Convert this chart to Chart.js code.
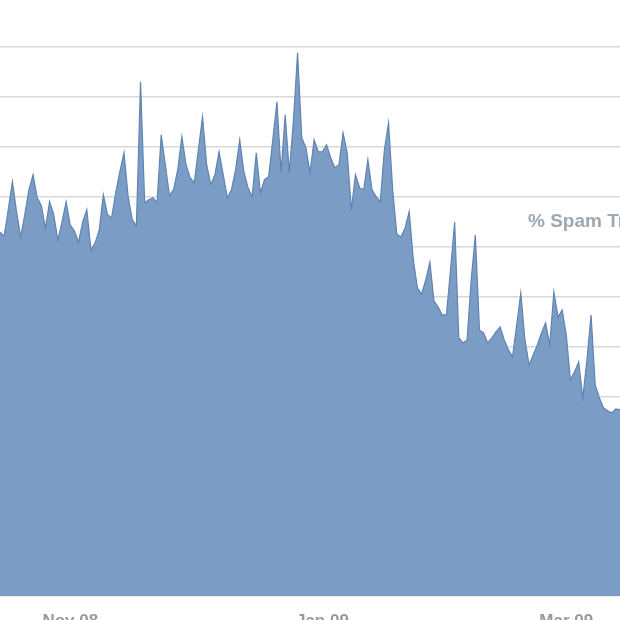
<!DOCTYPE html>
<html>
<head>
<meta charset="utf-8">
<script src="https://cdn.jsdelivr.net/npm/chart.js@4.4.1/dist/chart.umd.min.js"></script>
<style>
  html, body { margin: 0; padding: 0; background: #fff; overflow: hidden; }
  #wrap { width: 620px; height: 620px; overflow: hidden; }
  #wrap div { width: 620px; height: 640px; }
</style>
</head>
<body>
<div id="wrap"><div><canvas id="chart"></canvas></div></div>
<script>
// daily share of spam (one value per day)
const spamShare = [
  72.9, 72.1, 77.4, 83.0, 77.0, 71.9, 76.4, 81.4, 84.4, 79.8,
  78.2, 73.7, 79.0, 76.4, 71.3, 74.9, 79.0, 74.3, 73.1, 70.9,
  74.9, 77.4, 69.3, 70.7, 73.3, 80.4, 76.4, 75.8, 80.8, 85.0,
  88.8, 80.0, 75.4, 74.1, 103.0, 78.8, 79.4, 79.8, 78.8, 92.4,
  86.4, 80.2, 81.4, 85.4, 92.0, 86.4, 83.8, 82.8, 89.4, 96.0,
  86.4, 82.4, 84.4, 89.0, 84.4, 79.8, 81.4, 85.4, 91.4, 85.0,
  81.8, 80.0, 88.8, 80.8, 83.4, 84.0, 91.4, 99.0, 84.8, 96.4,
  84.8, 95.4, 108.8, 91.8, 89.8, 84.8, 91.4, 89.0, 89.0, 90.4,
  87.8, 85.8, 86.4, 92.8, 88.8, 77.4, 84.4, 81.8, 81.4, 87.4,
  81.4, 80.0, 79.0, 89.4, 94.8, 81.4, 72.5, 71.9, 73.7, 77.0,
  67.3, 61.7, 60.5, 63.3, 66.9, 59.1, 57.9, 56.3, 56.3, 65.3,
  74.9, 51.7, 50.7, 51.3, 63.3, 72.3, 53.3, 52.7, 50.7, 51.7,
  52.9, 53.9, 51.3, 49.3, 47.9, 54.3, 60.7, 51.3, 46.3, 48.3,
  50.3, 52.7, 54.7, 50.3, 60.9, 55.9, 57.3, 52.3, 43.3, 44.9,
  46.9, 39.7, 47.3, 56.3, 42.3, 39.7, 37.7, 37.1, 36.7, 37.5,
  37.3
];

// tick labels and the day index they sit under
const tickLabels = ['Nov 08', 'Jan 09', 'Mar 09'];
const tickDays = [17, 78, 137];

const seriesName = '% Spam Traffic';

// one category per day, starting mid October 2008
const startDate = new Date(2008, 9, 15);
const days = spamShare.map((v, i) => {
  const d = new Date(startDate);
  d.setDate(d.getDate() + i);
  return d.toISOString().slice(0, 10);
});

const seriesLabel = {
  id: 'seriesLabel',
  afterDraw(chart) {
    const { ctx } = chart;
    ctx.save();
    ctx.font = 'bold 19px "Liberation Sans", Arial, sans-serif';
    ctx.fillStyle = '#9ea8b3';
    ctx.textBaseline = 'middle';
    ctx.fillText(seriesName, 528, 222);
    ctx.restore();
  }
};

new Chart(document.getElementById('chart').getContext('2d'), {
  type: 'line',
  data: {
    labels: days,
    datasets: [
      {
        label: seriesName,
        data: spamShare,
        fill: 'origin',
        backgroundColor: '#7b9dc5',
        borderColor: '#5f83b2',
        borderWidth: 1.2,
        pointRadius: 0,
        tension: 0,
      },
    ],
  },
  plugins: [seriesLabel],
  options: {
    responsive: true,
    maintainAspectRatio: false,
    animation: false,
    layout: { padding: 0 },
    plugins: {
      legend: { display: false },
      tooltip: { enabled: false },
    },
    scales: {
      x: {
        type: 'category',
        offset: false,
        grid: { display: false, drawTicks: false },
        border: { display: false },
        ticks: {
          autoSkip: false,
          maxRotation: 0,
          minRotation: 0,
          padding: 15,
          color: '#999999',
          font: { size: 17, weight: 'bold', family: '"Liberation Sans", Arial, sans-serif' },
          callback: (value, index) => {
            const k = tickDays.indexOf(index);
            return k >= 0 ? tickLabels[k] : '';
          },
        },
        afterFit: scale => {
          scale.height = 44;
          scale.paddingLeft = 0;
          scale.paddingRight = 0;
        },
      },
      y: {
        min: 0,
        max: 119.4,
        z: 1,
        grid: { color: 'rgba(0,0,0,0.15)', lineWidth: 1.5, drawTicks: false },
        border: { display: false },
        ticks: { display: false, stepSize: 10 },
        afterBuildTicks: scale => {
          scale.ticks = scale.ticks.filter(t => t.value % 10 === 0);
        },
        afterFit: scale => { scale.width = 0; },
      },
    },
  },
});
</script>
</body>
</html>
